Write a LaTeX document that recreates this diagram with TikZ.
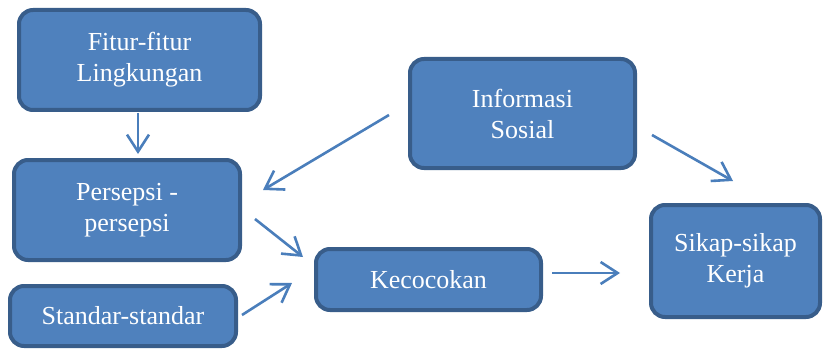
\documentclass[tikz,border=0pt]{standalone}
\usepackage{fontspec}
\setmainfont{Liberation Serif}
\usetikzlibrary{arrows.meta}
\definecolor{boxfill}{HTML}{4F81BD}
\definecolor{boxedge}{HTML}{385D8A}
\definecolor{arrowcol}{HTML}{4A7EBB}
\tikzset{
  box/.style={draw=boxedge, fill=boxfill, line width=4pt, rounded corners=14pt,
    text=white, align=center, font=\fontsize{26}{31}\selectfont, inner sep=0pt},
  conn/.style={draw=arrowcol, line width=2.6pt, -{Straight Barb[length=17pt,width=22pt]}}
}
\begin{document}
\begin{tikzpicture}[x=1pt,y=-1pt]
\useasboundingbox (0,0) rectangle (824,350);
\node[box, minimum width=241pt, minimum height=100pt] (fitur) at (139.5,60) {Fitur-fitur\\Lingkungan};
\node[box, minimum width=225pt, minimum height=109pt] (info) at (522.5,113.5) {Informasi\\Sosial};
\node[box, minimum width=226pt, minimum height=100pt] (pers) at (127,210) {Persepsi -\\persepsi};
\node[box, minimum width=226pt, minimum height=60pt] (std) at (123,316) {Standar-standar};
\node[box, minimum width=225pt, minimum height=61pt] (kec) at (428.5,279.5) {Kecocokan};
\node[box, minimum width=169pt, minimum height=112pt] (sikap) at (735.5,261) {Sikap-sikap\\Kerja};
% connector end points
\coordinate (a1) at (138,113); \coordinate (a2) at (138,154);
\coordinate (b1) at (389,115); \coordinate (b2) at (263,190);
\coordinate (c1) at (255,219); \coordinate (c2) at (303,257);
\coordinate (d1) at (242,315); \coordinate (d2) at (292,283);
\coordinate (e1) at (552,273); \coordinate (e2) at (620,273);
\coordinate (f1) at (652,135); \coordinate (f2) at (733,181);
\draw[conn] (a1) -- (a2);
\draw[conn] (b1) -- (b2);
\draw[conn] (c1) -- (c2);
\draw[conn] (d1) -- (d2);
\draw[conn] (e1) -- (e2);
\draw[conn] (f1) -- (f2);
\end{tikzpicture}
\end{document}
